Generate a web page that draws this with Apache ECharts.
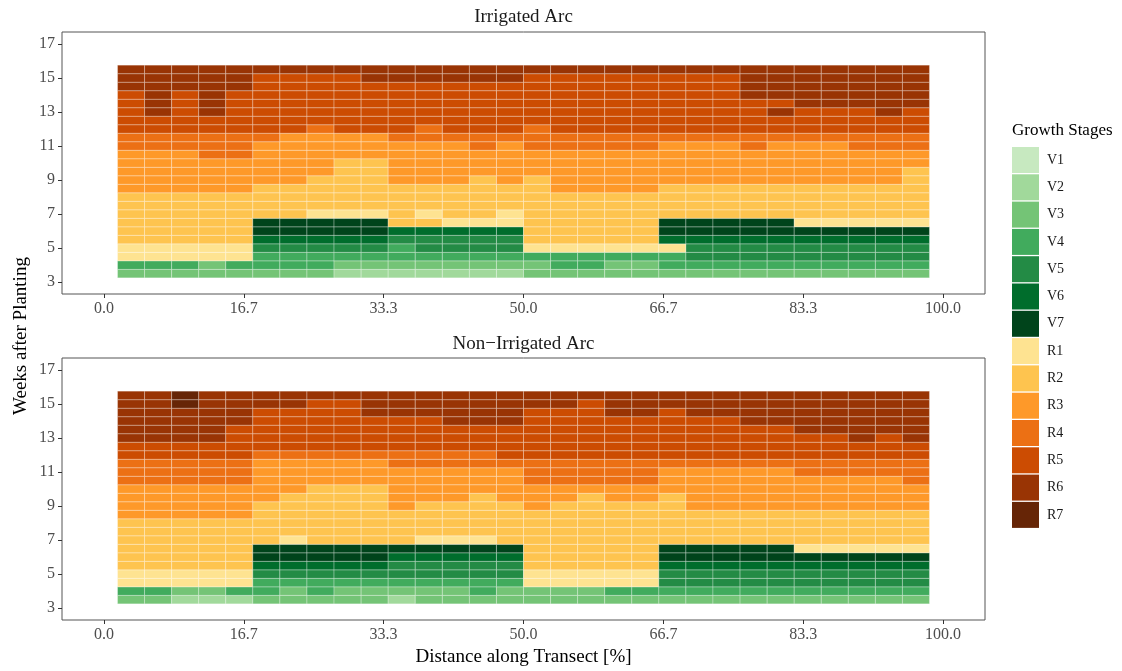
<!DOCTYPE html>
<html>
<head>
<meta charset="utf-8">
<script src="https://cdn.jsdelivr.net/npm/echarts@6/dist/echarts.min.js"></script>
<style>
  html, body { margin: 0; padding: 0; background: #ffffff; }
  #chart { width: 1122px; height: 671px; }
</style>
</head>
<body>
<div id="chart"></div>
<script>
// Growth stages and their fill colours (greens for vegetative, browns for reproductive)
const stageNames = ['V1', 'V2', 'V3', 'V4', 'V5', 'V6', 'V7', 'R1', 'R2', 'R3', 'R4', 'R5', 'R6', 'R7'];
const stageColors = ['#c7e9c0', '#a1d99b', '#74c476', '#41ab5d', '#238b45', '#006d2c', '#00441b',
                     '#fee391', '#fec44f', '#fe9929', '#ec7014', '#cc4c02', '#993404', '#662506'];

// Sampling positions along the transect [%] (tile centres)
const distance = [3.23, 6.45, 9.68, 12.90, 16.13, 19.35, 22.58, 25.81, 29.03, 32.26,
                  35.48, 38.71, 41.94, 45.16, 48.39, 51.61, 54.84, 58.06, 61.29, 64.52,
                  67.74, 70.97, 74.19, 77.42, 80.65, 83.87, 87.10, 90.32, 93.55, 96.77];

// Observation times [weeks after planting] (tile centres)
const weeks = [3.5, 4.0, 4.5, 5.0, 5.5, 6.0, 6.5, 7.0, 7.5, 8.0, 8.5, 9.0, 9.5,
               10.0, 10.5, 11.0, 11.5, 12.0, 12.5, 13.0, 13.5, 14.0, 14.5, 15.0, 15.5];

// Stage per position, one string per position, earliest week first.
// Codes: '1'-'7' = V1-V7, 'A'-'G' = R1-R7
const stageCodes = '1234567ABCDEFG';

const irrigated = [
  '34AABBBBBBCCCCCDDEEEEEFFF', '34AABBBBBBCCCCCDDEEFFFFFF', '34AABBBBBBCCCCCDDEEEEEFFF',
  '33AABBBBBBCCCCDDDEEFFFFFF', '34AABBBBBBCCCCDDDEEEEEFFF', '3445677BBBBCCCCCDEEEEEEEF',
  '3445677BBBBCCCCCCEEEEEEEF', '3445677ABBBBCCCCCDEEEEEEF', '2345677ABBBBBBCCCEEEEEEEF',
  '2345677ABBBBBBCCCEEEEEEFF', '234456BBBBBCCCCCDEEEEEEFF', '234556BABBBCCCCCDDEEEEEFF',
  '234556ABBBBCCCCCDEEEEEEFF', '234556ABBBBBCCCDDEEEEEEFF', '234556AABBBCCCCCDEEEEEEFF',
  '334ABBBBBBBBCCCDDDEEEEEEF', '344ABBBBBBCCCCCDDEEEEEEEF', '344ABBBBBBCCCCCDDEEEEEEEF',
  '334ABBBBBBCCCCCDDEEEEEEEF', '334ABBBBBBCCCCCDDEEEEEEEF', '344A677BBBBCCCCCDEEEEEEEF',
  '3455677BBBBCCCCCDEEEEEEEF', '3455677BBBBCCCCCDEEEEEEEF', '3455677BBBBCCCCDDEEEEFFFF',
  '3455677BBBBCCCCCDEEFEFFFF', '345567ABBBBCCCCCDEEEFFFFF', '345567ABBBBCCCCCDEEEFFFFF',
  '345567ABBBBCCCCDDEEEFFFFF', '345567ABBBBCCCCDDEEFFFFFF', '345567ABBBBBBCCDDEEEFFFFF'
];

const nonIrrigated = [
  '34AABBBBBBCCCCDDDEEFFFFFF', '34AABBBBBBCCCCDDDEEFFFFFF', '23AABBBBBBCCCCDDDEEFFFFGG',
  '23AABBBBBBCCCCDDDEEFFFFFF', '24AABBBBBBCCCCDDDEEEEFFFF', '3445677BBBBBCCCCCDEEEEEFF',
  '3345677ABBBBBCCCCDEEEEEFF', '3445677BBBBBBBCCCDEEEEEEF', '3345677BBBBBBBCCCDEEEEEEF',
  '3345677BBBBBBBCCCDEEEEFFF', '2345567BBBBCCCCCDDEEEEFFF', '3345567ABBBBCCCCDDEEEEFFF',
  '3345567ABBBBCCCCDDEEEFFFF', '3445567ABBBBBCCCDDEEEFFFF', '3345567BBBBBCCCCDEEEEFFFF',
  '33AABBBBBBBCCCDDDEEEEEEFF', '33AABBBBBBBBCCDDDEEEEEEFF', '33AABBBBBBBBBCDDDEEEEEEEF',
  '34AABBBBBBBBCCDDDEEEEEFFF', '34AABBBBBBBBCCDDDEEEEEFFF', '3455677BBBBBBCCCDEEEEEEFF',
  '3455677BBBBCCCCCDEEEEEFFF', '3455677BBBBCCCCCDEEEEEFFF', '3455677BBBBCCCCCDEEEEFFFF',
  '3455677BBBBCCCCCDEEEEFFFF', '345567ABBBBCCCCDDEEEFFFFF', '345567ABBBBCCCCDDEEEFFFFF',
  '345567ABBBBCCCCDDEEFFFFFF', '345567ABBBBCCCCDDEEEFFFFF', '345567ABBBBCCCDDDEEFFFFFF'
];

const panelTitles = ['Irrigated Arc', 'Non\u2212Irrigated Arc'];
const xTicks = [0, 16.67, 33.33, 50, 66.67, 83.33, 100];
const yTicks = [3, 5, 7, 9, 11, 13, 15, 17];

// ---- build tiles ----
function toCells(columns) {
  const cells = [];
  columns.forEach(function (col, i) {
    for (let j = 0; j < col.length; j++) {
      cells.push([distance[i], weeks[j], stageCodes.indexOf(col[j]) + 1]);
    }
  });
  return cells;
}

const tileW = distance[1] - distance[0];
const tileH = weeks[1] - weeks[0];

function renderTile(params, api) {
  const x = api.value(0);
  const y = api.value(1);
  const p0 = api.coord([x - tileW / 2, y + tileH / 2]);
  const p1 = api.coord([x + tileW / 2, y - tileH / 2]);
  return {
    type: 'rect',
    shape: { x: p0[0], y: p0[1], width: p1[0] - p0[0], height: p1[1] - p0[1] },
    style: { fill: api.visual('color'), stroke: 'rgba(255,255,255,0.28)', lineWidth: 1 }
  };
}

const FONT = 'Liberation Serif';
const GRID_LEFT = 62, GRID_W = 923, GRID_H = 262;
const gridTops = [32, 358];

function xAxisFor(idx) {
  return {
    gridIndex: idx, type: 'value', min: -5, max: 105,
    axisLine: { show: false, onZero: false },
    splitLine: { show: false },
    axisTick: { show: true, length: 4, customValues: xTicks, lineStyle: { color: '#333', width: 1 } },
    axisLabel: {
      customValues: xTicks, margin: 7, fontFamily: FONT, fontSize: 16, color: '#4d4d4d',
      formatter: function (v) { return v.toFixed(1); }
    }
  };
}
function yAxisFor(idx) {
  return {
    gridIndex: idx, type: 'value', min: 2.3, max: 17.7,
    axisLine: { show: false, onZero: false },
    splitLine: { show: false },
    axisTick: { show: true, length: 4, customValues: yTicks, lineStyle: { color: '#333', width: 1 } },
    axisLabel: { customValues: yTicks, margin: 7, fontFamily: FONT, fontSize: 16, color: '#4d4d4d' }
  };
}

const chart = echarts.init(document.getElementById('chart'), null, { renderer: 'canvas' });

chart.setOption({
  animation: false,
  backgroundColor: '#ffffff',
  grid: gridTops.map(function (t) {
    return { left: GRID_LEFT, top: t, width: GRID_W, height: GRID_H, show: true,
             backgroundColor: '#ffffff', borderColor: '#555', borderWidth: 1 };
  }),
  xAxis: [xAxisFor(0), xAxisFor(1)],
  yAxis: [yAxisFor(0), yAxisFor(1)],
  visualMap: {
    type: 'piecewise',
    seriesIndex: [0, 1],
    dimension: 2,
    orient: 'vertical',
    inverse: true,
    left: 997, top: 132,
    itemWidth: 27, itemHeight: 26, itemGap: 1.3,
    itemSymbol: 'rect',
    textGap: 8,
    align: 'left',
    hoverLink: false,
    selectedMode: false,
    textStyle: { fontFamily: FONT, fontSize: 14, color: '#1a1a1a' },
    pieces: stageNames.map(function (n, k) { return { value: k + 1, label: n, color: stageColors[k] }; })
  },
  series: [irrigated, nonIrrigated].map(function (cols, idx) {
    return {
      type: 'custom', xAxisIndex: idx, yAxisIndex: idx,
      encode: { x: 0, y: 1 },
      silent: true,
      renderItem: renderTile,
      data: toCells(cols)
    };
  }),
  graphic: [
    { type: 'text', x: GRID_LEFT + GRID_W / 2, y: 17.5,
      style: { text: panelTitles[0], font: '19px "' + FONT + '"', fill: '#1a1a1a',
               textAlign: 'center', textVerticalAlign: 'middle' } },
    { type: 'text', x: GRID_LEFT + GRID_W / 2, y: 344,
      style: { text: panelTitles[1], font: '19px "' + FONT + '"', fill: '#1a1a1a',
               textAlign: 'center', textVerticalAlign: 'middle' } },
    { type: 'text', x: GRID_LEFT + GRID_W / 2, y: 657,
      style: { text: 'Distance along Transect [%]', font: '19px "' + FONT + '"', fill: '#000',
               textAlign: 'center', textVerticalAlign: 'middle' } },
    { type: 'text', x: 21, y: 336, rotation: Math.PI / 2,
      style: { text: 'Weeks after Planting', font: '19px "' + FONT + '"', fill: '#000',
               textAlign: 'center', textVerticalAlign: 'middle' } },
    { type: 'text', x: 1012, y: 131,
      style: { text: 'Growth Stages', font: '17px "' + FONT + '"', fill: '#000',
               textAlign: 'left', textVerticalAlign: 'middle' } }
  ]
});
</script>
</body>
</html>
